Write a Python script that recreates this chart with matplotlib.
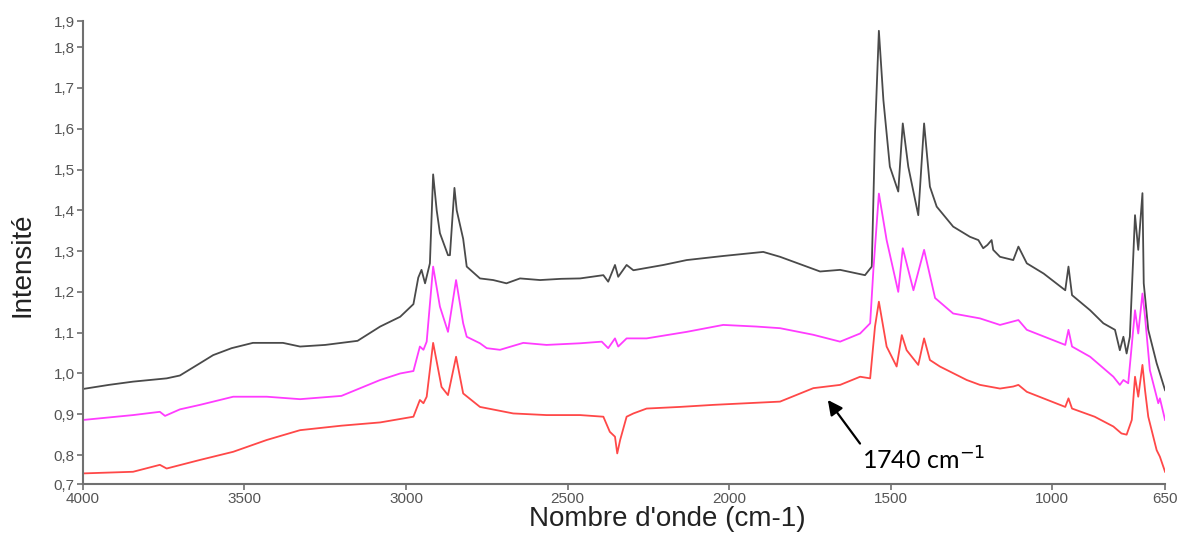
import matplotlib
matplotlib.use("Agg")

import matplotlib.pyplot as plt

# spectre noir (haut)
wn_black = [4000, 3920, 3845, 3741, 3700, 3638, 3597, 3540, 3474, 3381, 3328, 3250, 3150,
            3080, 3018, 2977, 2962, 2952, 2941, 2926, 2916, 2905, 2895, 2870, 2864, 2850,
            2843, 2823, 2812, 2771, 2730, 2689, 2647, 2585, 2520, 2461, 2389, 2374, 2353,
            2343, 2317, 2296, 2203, 2131, 2018, 1894, 1842, 1718, 1656, 1579, 1558, 1548,
            1536, 1522, 1502, 1476, 1462, 1445, 1414, 1396, 1378, 1357, 1306, 1254, 1228,
            1213, 1200, 1187, 1182, 1161, 1120, 1104, 1078, 1026, 959, 949, 938, 882, 841,
            805, 790, 779, 769, 759, 743, 733, 720, 716, 702, 676, 666, 650]
int_black = [0.962, 0.972, 0.980, 0.988, 0.995, 1.025, 1.045, 1.062, 1.075, 1.075, 1.066, 1.070, 1.080,
             1.115, 1.139, 1.170, 1.235, 1.254, 1.221, 1.270, 1.488, 1.400, 1.344, 1.290, 1.290, 1.455,
             1.400, 1.330, 1.262, 1.233, 1.229, 1.221, 1.233, 1.229, 1.232, 1.233, 1.241, 1.225, 1.266,
             1.237, 1.266, 1.253, 1.266, 1.278, 1.288, 1.298, 1.286, 1.250, 1.254, 1.241, 1.262, 1.588,
             1.840, 1.670, 1.507, 1.446, 1.613, 1.507, 1.388, 1.613, 1.458, 1.409, 1.360, 1.335, 1.327,
             1.307, 1.315, 1.327, 1.303, 1.286, 1.278, 1.311, 1.270, 1.245, 1.204, 1.262, 1.192, 1.155, 1.123,
             1.107, 1.057, 1.090, 1.049, 1.090, 1.388, 1.303, 1.442, 1.221, 1.107, 1.025, 1.000, 0.959]

# spectre magenta (milieu)
wn_magenta = [4000, 3845, 3762, 3746, 3700, 3638, 3535, 3431, 3328, 3200, 3080, 3018, 2977,
              2957, 2946, 2936, 2916, 2895, 2870, 2845, 2823, 2812, 2771, 2750, 2709, 2637,
              2565, 2461, 2394, 2374, 2353, 2343, 2317, 2255, 2131, 2018, 1915, 1842, 1740,
              1656, 1594, 1563, 1553, 1536, 1512, 1476, 1462, 1429, 1396, 1362, 1306, 1223,
              1161, 1104, 1078, 959, 949, 938, 882, 810, 790, 779, 764, 743, 733, 720, 712,
              697, 671, 666, 650]
int_magenta = [0.886, 0.898, 0.906, 0.896, 0.912, 0.923, 0.943, 0.943, 0.937, 0.945, 0.984, 1.000, 1.006,
               1.066, 1.058, 1.078, 1.262, 1.164, 1.102, 1.229, 1.123, 1.090, 1.074, 1.062, 1.058, 1.075,
               1.070, 1.074, 1.078, 1.062, 1.086, 1.066, 1.086, 1.086, 1.102, 1.119, 1.115, 1.111, 1.095,
               1.078, 1.098, 1.123, 1.254, 1.441, 1.327, 1.200, 1.307, 1.204, 1.303, 1.185, 1.147, 1.135,
               1.119, 1.131, 1.107, 1.070, 1.107, 1.066, 1.041, 0.992, 0.972, 0.984, 0.976, 1.155, 1.098, 1.196, 1.139,
               1.008, 0.927, 0.939, 0.886]

# spectre rouge (bas)
wn_red = [4000, 3845, 3762, 3741, 3638, 3535, 3431, 3328, 3200, 3080, 2977, 2957, 2946, 2936,
          2916, 2890, 2870, 2845, 2823, 2771, 2668, 2565, 2461, 2389, 2369, 2353, 2346, 2337,
          2317, 2296, 2255, 2152, 2049, 1946, 1842, 1739, 1656, 1594, 1563, 1548, 1536, 1512,
          1481, 1465, 1450, 1414, 1396, 1378, 1347, 1264, 1223, 1161, 1120, 1104, 1078, 959,
          949, 938, 868, 810, 785, 769, 753, 743, 733, 720, 712, 702, 676, 666, 650]
int_red = [0.755, 0.759, 0.776, 0.767, 0.788, 0.808, 0.837, 0.861, 0.872, 0.880, 0.894, 0.935, 0.927, 0.943,
           1.075, 0.967, 0.947, 1.041, 0.951, 0.918, 0.902, 0.898, 0.898, 0.894, 0.857, 0.845, 0.804, 0.837,
           0.894, 0.902, 0.914, 0.918, 0.923, 0.927, 0.931, 0.964, 0.972, 0.992, 0.988, 1.115, 1.176, 1.066,
           1.017, 1.094, 1.057, 1.021, 1.086, 1.033, 1.017, 0.984, 0.972, 0.963, 0.968, 0.972, 0.955, 0.918,
           0.939, 0.914, 0.894, 0.870, 0.853, 0.850, 0.886, 0.992, 0.943, 1.021, 0.959, 0.894, 0.812, 0.796, 0.759]

x_ticks = [4000, 3500, 3000, 2500, 2000, 1500, 1000, 650]
y_min, y_max = 0.729, 1.864
y_ticks = [y_min, 0.8, 0.9, 1.0, 1.1, 1.2, 1.3, 1.4, 1.5, 1.6, 1.7, 1.8, y_max]
y_labels = ["0,7", "0,8", "0,9", "1,0", "1,1", "1,2", "1,3", "1,4", "1,5", "1,6", "1,7", "1,8", "1,9"]

plt.rcParams["font.family"] = ["Liberation Sans", "DejaVu Sans"]

fig = plt.figure(figsize=(11.84, 5.35), dpi=100)
ax = fig.add_axes([0.0701, 0.0953, 0.9139, 0.8654])

ax.plot(wn_black, int_black, color="#4a4a4a", lw=1.3)
ax.plot(wn_magenta, int_magenta, color="#ff3cff", lw=1.3)
ax.plot(wn_red, int_red, color="#ff4848", lw=1.3)

ax.set_xlim(4000, 650)
ax.set_ylim(y_min, y_max)
ax.set_xticks(x_ticks)
ax.set_xticklabels([str(t) for t in x_ticks])
ax.set_yticks(y_ticks)
ax.set_yticklabels(y_labels)

for side in ["top", "right"]:
    ax.spines[side].set_visible(False)
for side in ["left", "bottom"]:
    ax.spines[side].set_color("#707070")
    ax.spines[side].set_linewidth(1.5)
ax.tick_params(colors="#707070", labelcolor="#555555", labelsize=11, length=4, width=1.2, pad=2)

ax.set_xlabel("Nombre d'onde (cm-1)", fontsize=20, color="#222222", va="center")
ax.xaxis.set_label_coords(0.54, -0.076)
ax.set_ylabel("Intensité", fontsize=20, color="#222222", va="center")
ax.yaxis.set_label_coords(-0.0555, 0.473)

ax.annotate("1740 cm$^{-1}$", xy=(1694, 0.935), xytext=(1588, 0.788),
            ha="left", va="center", fontsize=18, color="black", family=["Lato", "DejaVu Sans"],
            arrowprops=dict(arrowstyle="-|>", color="black", lw=1.6, mutation_scale=22,
                            shrinkA=0, shrinkB=0, relpos=(0.0, 1.0)))

plt.savefig("out.png", dpi=100)
plt.close()
